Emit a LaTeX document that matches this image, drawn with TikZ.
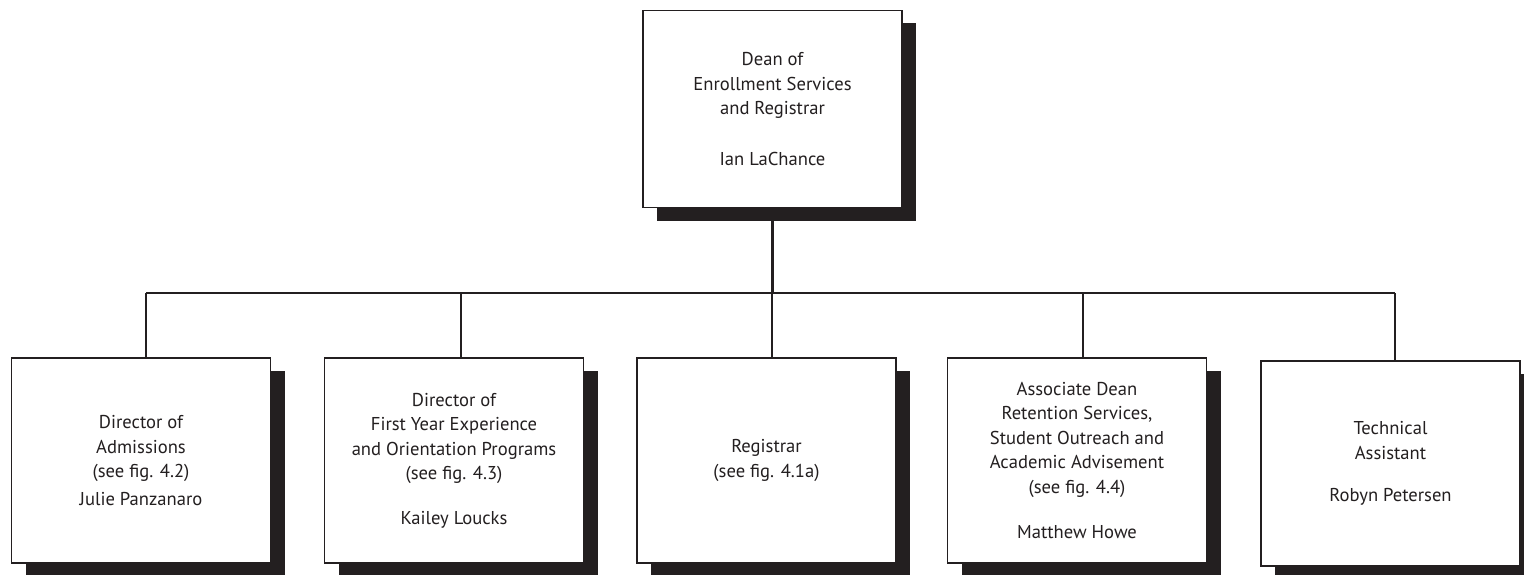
\documentclass[tikz,border=0pt]{standalone}
\usepackage{fontspec}
\setmainfont{PT Sans}
\usetikzlibrary{shadows}
\definecolor{ink}{RGB}{35,31,32}
\tikzset{
  orgbox/.style={draw=ink, line width=1.8pt, fill=white, minimum width=259pt, minimum height=205pt,
    align=center, text=ink, inner sep=0pt,
    font=\fontsize{18.6}{24.5}\selectfont,
    general shadow={fill=ink, shadow xshift=14pt, shadow yshift=-13pt}},
  link/.style={draw=ink, line width=2.6pt}
}
\begin{document}
\begin{tikzpicture}[x=1pt,y=-1pt]
\useasboundingbox (0,0) rectangle (1524,575);
\node[orgbox, minimum height=197pt] (dean) at (772.5,109) {Dean of\\Enrollment Services\\and Registrar\\[26pt]Ian LaChance};
\node[orgbox] (adm) at (141,460.5) {Director of\\Admissions\\(see fig. 4.2)\\[3pt]Julie Panzanaro};
\node[orgbox] (fye) at (454,460.5) {Director of\\First Year Experience\\and Orientation Programs\\(see fig. 4.3)\\[20pt]Kailey Loucks};
\node[orgbox] (reg) at (766.5,460.5) {Registrar\\(see fig. 4.1a)};
\node[orgbox] (ret) at (1077,460.5) {Associate Dean\\Retention Services,\\Student Outreach and\\Academic Advisement\\(see fig. 4.4)\\[21pt]Matthew Howe};
\node[orgbox] (tech) at (1390.5,463.5) {Technical\\Assistant\\[18pt]Robyn Petersen};
\coordinate (busL) at (146,293);
\coordinate (busR) at (1395,293);
\draw[link] (dean.south) -- (dean.south |- busL);
\draw[link] (busL) -- (busR);
\draw[link] (busL) -- ([xshift=5pt]adm.north);
\draw[link] (busL -| 461,0) -- ([xshift=7pt]fye.north);
\draw[link] (busL -| 772,0) -- ([xshift=5.5pt]reg.north);
\draw[link] (busL -| 1083,0) -- ([xshift=6pt]ret.north);
\draw[link] (busR) -- ([xshift=4.5pt]tech.north);
\end{tikzpicture}
\end{document}
